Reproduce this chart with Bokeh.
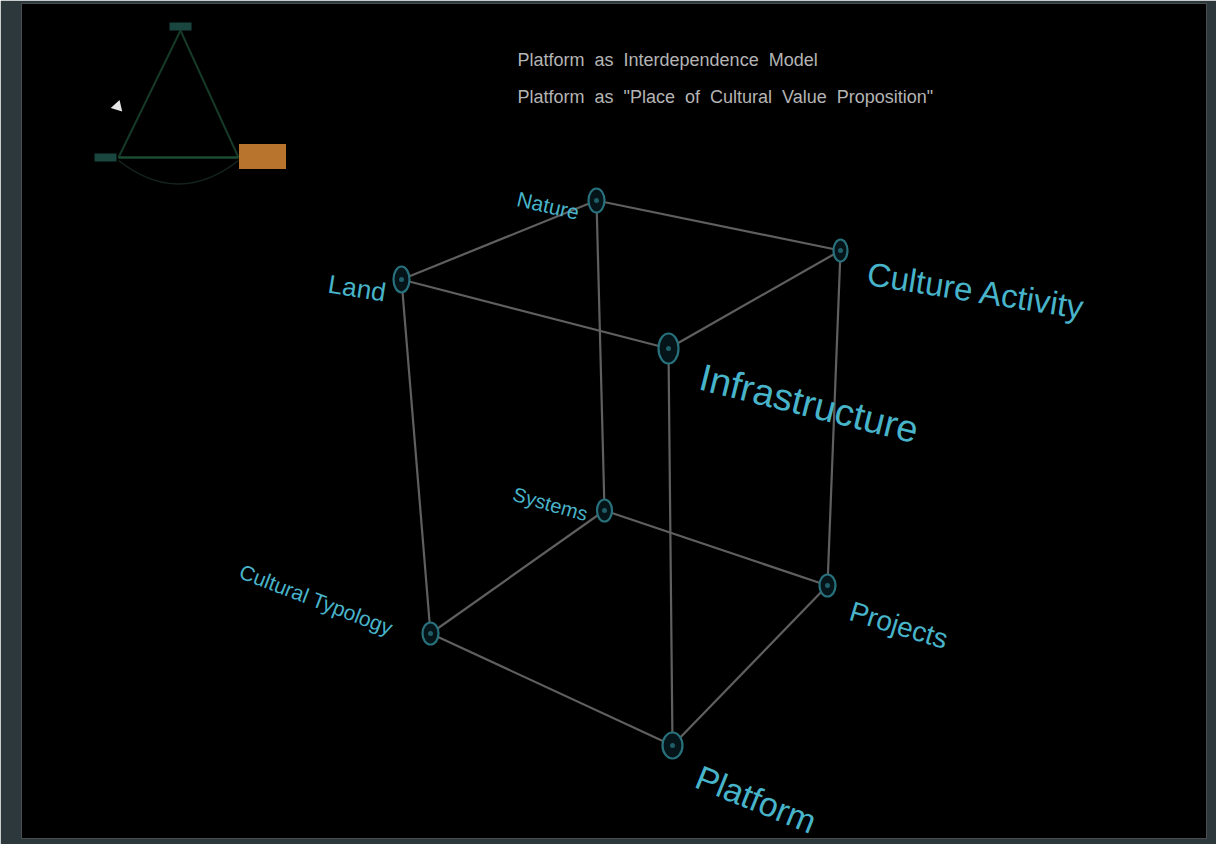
from bokeh.plotting import figure
from bokeh.models import Range1d, ColumnDataSource
from bokeh.core.properties import value
from bokeh.embed import file_html
from bokeh.resources import INLINE

# ---------------- data ----------------
node_names = ["Nature", "Land", "Culture Activity", "Infrastructure",
              "Systems", "Cultural Typology", "Projects", "Platform"]
node_x = [596, 401, 840, 668, 604, 430, 827, 672]
node_y = [200, 279, 250, 348, 510, 633, 585, 745]

edges = [("Land", "Nature"), ("Nature", "Culture Activity"),
         ("Culture Activity", "Infrastructure"), ("Infrastructure", "Land"),
         ("Cultural Typology", "Systems"), ("Systems", "Projects"),
         ("Projects", "Platform"), ("Platform", "Cultural Typology"),
         ("Land", "Cultural Typology"), ("Nature", "Systems"),
         ("Culture Activity", "Projects"), ("Infrastructure", "Platform")]

# label anchor (baseline start), rotation and size per node
label_x = [517, 328, 867, 700, 513, 240, 850, 697]
label_y = [198, 283, 273, 376, 493, 570, 610, 775]
label_angle = [-13, -9, -9, -14, -16, -21, -17, -22]
label_size = ["21px", "26px", "33px", "38px", "20px", "21px", "28px", "34px"]
node_w = [16, 16, 14, 20, 15, 16, 16, 20]
node_h = [24, 26, 22, 30, 22, 22, 22, 26]

NB = "\u00a0"
title_lines = [f"Platform {NB}as {NB}Interdependence {NB}Model",
               f"Platform {NB}as {NB}\"Place {NB}of {NB}Cultural {NB}Value {NB}Proposition\""]
title_x = [517, 517]
title_y = [59, 96]

# inset triangle (top-left)
inset_x = [180, 118, 238]
inset_y = [30, 157, 157]
inset_box_x = [262]
inset_box_y = [156]
inset_tag_x = [180, 105]
inset_tag_y = [26, 157]
cursor_x = [117]
cursor_y = [106]

# ---------------- figure ----------------
p = figure(width=1216, height=844,
           x_range=Range1d(21, 1206), y_range=Range1d(838, 3),
           output_backend="svg", toolbar_location=None,
           x_axis_location=None, y_axis_location=None,
           min_border_left=21, min_border_right=10,
           min_border_top=3, min_border_bottom=6)
p.grid.visible = False
p.outline_line_color = None
p.background_fill_color = "#000000"
p.border_fill_color = "#2c383b"

# inset
ix = inset_x + [inset_x[0]]
iy = inset_y + [inset_y[0]]
p.line(ix[:2], iy[:2], line_color="#163a28", line_width=2)
p.line([ix[0], ix[2]], [iy[0], iy[2]], line_color="#163a28", line_width=2)
p.line([ix[1], ix[2]], [iy[1], iy[2]], line_color="#1d4a33", line_width=2.5)
p.quadratic(x0=[inset_x[1]], y0=[inset_y[1] + 3], x1=[inset_x[2]], y1=[inset_y[2] + 3],
            cx=[(inset_x[1] + inset_x[2]) / 2], cy=[inset_y[1] + 50],
            line_color="#14241c", line_width=1.5)
p.rect(inset_tag_x, inset_tag_y, width=22, height=8, fill_color="#1a4640",
       line_color=None)
p.rect(inset_box_x, inset_box_y, width=47, height=25, fill_color="#b8742c",
       line_color=None)
p.scatter(cursor_x, cursor_y, marker="triangle", size=12, angle=-0.3,
          fill_color="#e8e8e8", line_color=None)

# title lines
p.text(title_x, title_y, text=title_lines, text_color="#b4b4b4",
       text_font=value("Liberation Sans"), text_font_size="18px",
       text_align="left", text_baseline="alphabetic")

# cube edges
pos = dict(zip(node_names, zip(node_x, node_y)))
xs = [[pos[a][0], pos[b][0]] for a, b in edges]
ys = [[pos[a][1], pos[b][1]] for a, b in edges]
p.multi_line(xs, ys, line_color="#5f5f5f", line_width=2.2)

# nodes
nsrc = ColumnDataSource(dict(x=node_x, y=node_y, w=node_w, h=node_h))
p.ellipse("x", "y", width="w", height="h", source=nsrc,
          fill_color="#041418", line_color="#28717c", line_width=2.2)
p.scatter("x", "y", source=nsrc, marker="circle", size=5,
          fill_color="#1f5e68", line_color=None)

# labels
lsrc = ColumnDataSource(dict(x=label_x, y=label_y, text=node_names,
                             angle=label_angle, size=label_size))
p.text("x", "y", text="text", angle="angle", angle_units="deg", source=lsrc,
       text_font_size="size", text_color="#48b4ca",
       text_font=value("Liberation Sans"),
       text_align="left", text_baseline="alphabetic")

open("out.html", "w").write(file_html(p, INLINE))
